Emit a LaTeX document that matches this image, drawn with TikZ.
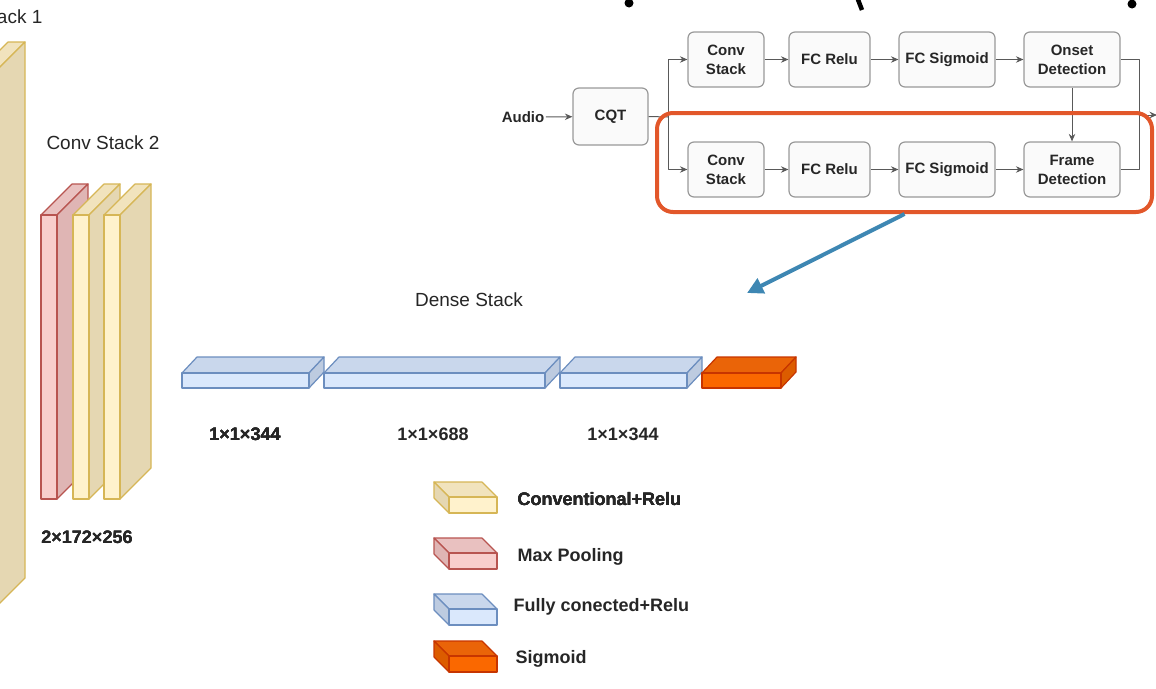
\documentclass[tikz,border=0pt]{standalone}
\usepackage{fontspec}
\setmainfont{Liberation Sans}
\usetikzlibrary{arrows.meta}
% mau cac khoi
\definecolor{vangF}{HTML}{FFF2CC}\definecolor{vangT}{HTML}{F1E3BD}\definecolor{vangS}{HTML}{E5D7B2}\definecolor{vangL}{HTML}{D6B656}
\definecolor{doF}{HTML}{F8CECC}\definecolor{doT}{HTML}{E9C1C0}\definecolor{doS}{HTML}{DFB5B4}\definecolor{doL}{HTML}{B85450}
\definecolor{xanhF}{HTML}{DAE8FC}\definecolor{xanhT}{HTML}{C9D7EC}\definecolor{xanhS}{HTML}{BDCBE0}\definecolor{xanhL}{HTML}{6C8EBF}
\definecolor{camF}{HTML}{FA6800}\definecolor{camT}{HTML}{EA6408}\definecolor{camS}{HTML}{DC5C00}\definecolor{camL}{HTML}{C73500}
\definecolor{vien}{HTML}{E2572A}\definecolor{tro}{HTML}{3E87B3}
% khoi 3D: x y rong cao dx dy mau (mat ben phai)
\newcommand{\khoi}[7]{%
\filldraw[draw=#7L,fill=#7T] (#1,#2) -- ({#1+(#5)},{#2+(#6)}) -- ({#1+#3+(#5)},{#2+(#6)}) -- ({#1+#3},#2) -- cycle;
\filldraw[draw=#7L,fill=#7S] ({#1+#3},#2) -- ({#1+#3+(#5)},{#2+(#6)}) -- ({#1+#3+(#5)},{#2+#4+(#6)}) -- ({#1+#3},{#2+#4}) -- cycle;
\filldraw[draw=#7L,fill=#7F] (#1,#2) rectangle ({#1+#3},{#2+#4});}
% khoi 3D cho chu thich (mat ben trai)
\newcommand{\khoitrai}[7]{%
\filldraw[draw=#7L,fill=#7T] (#1,#2) -- ({#1+(#5)},{#2+(#6)}) -- ({#1+#3+(#5)},{#2+(#6)}) -- ({#1+#3},#2) -- cycle;
\filldraw[draw=#7L,fill=#7S] (#1,#2) -- ({#1+(#5)},{#2+(#6)}) -- ({#1+(#5)},{#2+#4+(#6)}) -- (#1,{#2+#4}) -- cycle;
\filldraw[draw=#7L,fill=#7F] (#1,#2) rectangle ({#1+#3},{#2+#4});}
\tikzset{
  khung/.style={draw=black!40,fill=black!2,rounded corners=6pt,align=center,
    font=\fontsize{15}{19}\selectfont\bfseries,text=black!85,minimum height=55pt,inner sep=1pt},
  mui/.style={-{Stealth[length=7.5pt,width=6.5pt]},draw=black!65,line width=1pt},
  nhan/.style={font=\fontsize{18}{20}\selectfont\bfseries,text=black!85,inner sep=0pt},
  tieude/.style={font=\fontsize{19}{22}\selectfont,text=black!85,inner sep=0pt}
}
\begin{document}
\begin{tikzpicture}[x=1pt,y=-1pt,line join=round,line width=1.2pt]
\useasboundingbox (0,0) rectangle (1156,688);
\clip (0,0) rectangle (1156,688);
% manh chu bi cat o tren
\fill (629,3) circle (4.5); \fill (1132,4) circle (4.5);
\draw[line width=4.5pt] (857,-3) -- (862,10);
% Conv Stack 1 va 2
\node[tieude,anchor=east] (cs1) at (43,17) {Conv Stack 1};
\khoi{-23}{73}{17}{536}{31}{-31}{vang}
\node[tieude] (cs2) at (103,143) {Conv Stack 2};
\foreach \x/\c in {41/do,73/vang,104/vang}
  \khoi{\x}{215}{16}{284}{31}{-31}{\c}
\node[nhan] (kt2) at (87,537) {2×172×256};
% Dense Stack
\node[tieude] (ds) at (469,300) {Dense Stack};
\foreach \x/\w/\c in {182/127/xanh,324/221/xanh,560/127/xanh,702/79/cam}
  \khoi{\x}{373}{\w}{15}{15}{-16}{\c}
\node[nhan] (d1) at (245,434) {1×1×344};
\node[nhan] (d2) at (433,434) {1×1×688};
\node[nhan] (d3) at (623,434) {1×1×344};
% chu thich
\foreach \y/\c in {497/vang,553/do,609/xanh,656/cam}
  \khoitrai{449}{\y}{48}{16}{-15}{-15}{\c}
\node[nhan,anchor=west] (l1) at (517,499) {Conventional+Relu};
\node[nhan,anchor=west] (l2) at (517,557) {Max Pooling};
\node[nhan,anchor=west] (l3) at (513,607) {Fully conected+Relu};
\node[nhan,anchor=west] (l4) at (515,659) {Sigmoid};
% so do khoi
\node[khung,draw=none,fill=none,minimum height=0pt] (audio) at (523,117) {Audio};
\node[khung,minimum width=75pt,minimum height=57pt] (cqt) at (610.5,116.5) {CQT};
\node[khung,minimum width=76pt] (conv1) at (726,59.5) {Conv\\Stack};
\node[khung,minimum width=81pt] (fcr1) at (829.5,59.5) {FC Relu};
\node[khung,minimum width=96pt] (fcs1) at (947,59.5) {FC Sigmoid};
\node[khung,minimum width=96pt] (onset) at (1072,59.5) {Onset\\Detection};
\node[khung,minimum width=76pt] (conv2) at (726,169.5) {Conv\\Stack};
\node[khung,minimum width=81pt] (fcr2) at (829.5,169.5) {FC Relu};
\node[khung,minimum width=96pt] (fcs2) at (947,169.5) {FC Sigmoid};
\node[khung,minimum width=96pt] (frame) at (1072,169.5) {Frame\\Detection};
\coordinate (re) at (668,117);
\coordinate (gop) at (1139,115);
\coordinate (ra) at (1157,115);
\draw[mui] (audio) -- (cqt);
\draw[mui,-] (cqt.east) -- (re);
\draw[mui] (re) |- (conv1);
\draw[mui] (re) |- (conv2);
\draw[mui] (conv1) -- (fcr1); \draw[mui] (fcr1) -- (fcs1); \draw[mui] (fcs1) -- (onset);
\draw[mui] (conv2) -- (fcr2); \draw[mui] (fcr2) -- (fcs2); \draw[mui] (fcs2) -- (frame);
\draw[mui] (onset) -- (frame);
\draw[mui,-] (onset.east) -| (gop);
\draw[mui,-] (frame.east) -| (gop);
\draw[mui] (gop) -- (ra);
% khung do va mui ten xanh
\node[draw=vien,line width=4pt,rounded corners=16pt,minimum width=495pt,minimum height=99pt,inner sep=0pt] (hl) at (904.5,162.5) {};
\coordinate (dich) at (747,293);
\draw[draw=tro,line width=4pt,-{Triangle[length=16pt,width=16pt]}] (hl.south) -- (dich);
\end{tikzpicture}
\end{document}
